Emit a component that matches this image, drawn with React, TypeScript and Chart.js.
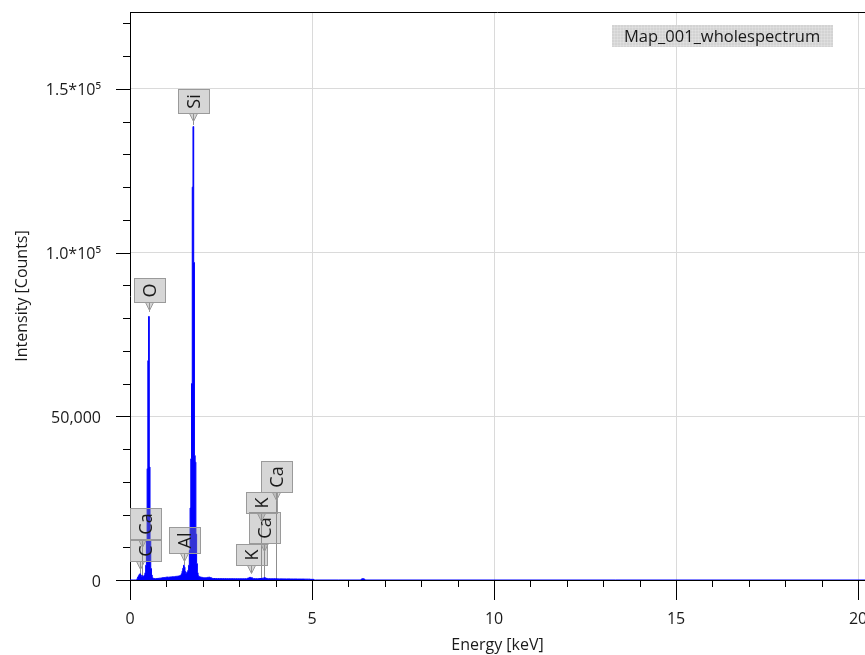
import React, { useEffect, useRef } from 'react';
import { Chart, registerables } from 'chart.js';

Chart.register(...registerables);

// ---------- data ----------
const seriesName = 'Map_001_wholespectrum';

const energyKeV = [
  0.0, 0.18, 0.2, 0.22, 0.24, 0.26, 0.28, 0.3, 0.32, 0.34, 0.36, 0.38, 0.4, 0.42, 0.44, 0.46, 0.48, 0.5,
  0.52, 0.54, 0.56, 0.58, 0.6, 0.62, 0.64, 0.66, 0.7, 0.74, 0.78, 0.82, 0.86, 0.9, 0.94, 0.98, 1.02, 1.06,
  1.1, 1.14, 1.18, 1.22, 1.26, 1.3, 1.34, 1.38, 1.4, 1.42, 1.44, 1.46, 1.48, 1.5, 1.52, 1.54, 1.56, 1.58,
  1.6, 1.62, 1.64, 1.66, 1.68, 1.7, 1.72, 1.74, 1.76, 1.78, 1.8, 1.82, 1.84, 1.86, 1.88, 1.9, 1.94, 1.98,
  2.02, 2.06, 2.1, 2.14, 2.18, 2.22, 2.26, 2.3, 2.4, 2.5, 2.6, 2.7, 2.8, 2.9, 3.0, 3.1, 3.2, 3.26, 3.3,
  3.34, 3.4, 3.5, 3.6, 3.66, 3.7, 3.74, 3.8, 3.9, 4.0, 4.1, 4.3, 4.5, 4.7, 4.9, 5.0, 5.1, 6.34, 6.36,
  6.4, 6.44, 6.46, 20.2,
];

const counts = [
  0, 0, 400, 900, 1300, 1700, 1900, 1500, 1100, 1300, 1000, 1200, 1500, 2200, 4500, 12000, 34000, 67000,
  80500, 34500, 12000, 3500, 1500, 700, 500, 450, 400, 450, 500, 550, 600, 700, 750, 800, 900, 850,
  900, 950, 1000, 1000, 1100, 1150, 1200, 1300, 1500, 1900, 2700, 3600, 4500, 3900, 2600, 2100, 2200, 2500,
  3000, 4500, 9000, 22000, 37000, 60000, 120000, 138500, 97000, 38000, 36000, 14000, 5000, 2200, 1300, 1000, 900, 800,
  700, 650, 700, 800, 850, 700, 500, 450, 420, 400, 400, 380, 380, 370, 360, 360, 380, 600, 800,
  650, 400, 380, 450, 550, 700, 500, 380, 360, 380, 340, 320, 300, 280, 260, 200, 0, 0, 300,
  400, 300, 0, 0,
];

const xTickValues = [0, 5, 10, 15, 20];
const yTickValues = [0, 50000, 100000, 150000];
const yTickLabels = ['0', '50,000', '1.0*10\u2075', '1.5*10\u2075'];
const xMinorStep = 1;
const yMinorStep = 10000;

// peak annotations
const peakElements = ['C', 'Ca', 'Al', 'O', 'Si', 'K', 'Ca', 'K', 'Ca'];
const peakEnergies = [0.277, 0.341, 1.486, 0.525, 1.74, 3.313, 3.69, 3.589, 4.012];
const peakTipCounts = [1900, 1200, 4600, 81900, 139000, 2100, 300, 300, 300];
const labelBaseCounts = [5800, 12500, 8250, 84900, 142600, 4580, 11300, 20550, 27000];

const FONT = '"Open Sans", "Noto Sans", sans-serif';
const TEXT = '#1a1a1a';

const labelGeom = (chart: any, i: number) => {
  const { chartArea, scales, ctx } = chart;
  const px = Math.round(scales.x.getPixelForValue(peakEnergies[i])) + 0.5;
  const tipY = scales.y.getPixelForValue(peakTipCounts[i]);
  const baseY = Math.round(scales.y.getPixelForValue(labelBaseCounts[i])) + 0.5;
  const tw = ctx.measureText(peakElements[i]).width;
  const h = Math.round(tw + 10);
  const w = 31;
  const bx = Math.round(Math.max(chartArea.left, px - w / 2)) + 0.5;
  return { px, tipY, baseY, h, w, bx };
};

const peakLabelPlugin = {
  id: 'peakLabels',
  beforeDatasetsDraw(chart: any) {
    const { ctx } = chart;
    ctx.save();
    ctx.font = `18px ${FONT}`;
    ctx.lineWidth = 1;
    ctx.strokeStyle = '#8f8f8f';
    peakElements.forEach((el, i) => {
      const g = labelGeom(chart, i);
      ctx.beginPath();
      ctx.moveTo(g.px, g.baseY);
      ctx.lineTo(g.px, g.tipY);
      ctx.stroke();
    });
    ctx.restore();
  },
  afterDatasetsDraw(chart: any) {
    const { ctx } = chart;
    ctx.save();
    ctx.font = `18px ${FONT}`;
    ctx.lineWidth = 1;
    peakElements.forEach((el, i) => {
      const g = labelGeom(chart, i);
      // pointer triangle
      ctx.fillStyle = 'rgba(150,150,150,0.4)';
      ctx.strokeStyle = '#9a9a9a';
      ctx.beginPath();
      ctx.moveTo(g.px - 4, g.baseY);
      ctx.lineTo(g.px, g.baseY + 8);
      ctx.lineTo(g.px + 4, g.baseY);
      ctx.closePath();
      ctx.fill();
      ctx.stroke();
      // box
      ctx.fillStyle = 'rgba(140,140,140,0.36)';
      ctx.fillRect(g.bx, g.baseY - g.h, g.w, g.h);
      ctx.strokeStyle = '#9a9a9a';
      ctx.strokeRect(g.bx, g.baseY - g.h, g.w, g.h);
      // text
      ctx.save();
      ctx.translate(g.bx + g.w / 2, g.baseY - g.h / 2);
      ctx.rotate(-Math.PI / 2);
      ctx.fillStyle = TEXT;
      ctx.textAlign = 'center';
      ctx.textBaseline = 'middle';
      ctx.fillText(el, 0, 1);
      ctx.restore();
    });
    ctx.restore();
  },
};

const frameAndTicksPlugin = {
  id: 'frameTicks',
  afterDraw(chart: any) {
    const { ctx, chartArea, scales } = chart;
    const { left, right, top, bottom } = chartArea;
    const x = scales.x;
    const y = scales.y;
    ctx.save();
    ctx.strokeStyle = '#000';
    ctx.lineWidth = 1;
    ctx.beginPath();
    ctx.moveTo(left, Math.round(top) + 0.5);
    ctx.lineTo(right, Math.round(top) + 0.5);
    for (let v = 0; v <= x.max + 1e-9; v += xMinorStep) {
      const p = Math.round(x.getPixelForValue(v)) + 0.5;
      const len = v % 5 === 0 ? 20 : 7;
      ctx.moveTo(p, bottom);
      ctx.lineTo(p, bottom + len);
    }
    for (let v = 0; v <= y.max + 1e-9; v += yMinorStep) {
      const p = Math.round(y.getPixelForValue(v)) + 0.5;
      const len = v % 50000 === 0 ? 14 : 7;
      ctx.moveTo(left, p);
      ctx.lineTo(left - len, p);
    }
    ctx.stroke();

    // legend box
    const label = chart.data.datasets[0].label;
    const lx = right - 253;
    const ly = top + 13;
    const lw = 221;
    const lh = 22;
    ctx.fillStyle = '#d3d3d3';
    ctx.fillRect(lx, ly, lw, lh);
    ctx.strokeStyle = 'rgba(255,255,255,0.18)';
    ctx.beginPath();
    for (let gx = lx + 2; gx < lx + lw; gx += 3) {
      ctx.moveTo(Math.round(gx) + 0.5, ly);
      ctx.lineTo(Math.round(gx) + 0.5, ly + lh);
    }
    for (let gy = ly + 2; gy < ly + lh; gy += 3) {
      ctx.moveTo(lx, Math.round(gy) + 0.5);
      ctx.lineTo(lx + lw, Math.round(gy) + 0.5);
    }
    ctx.stroke();
    ctx.fillStyle = TEXT;
    ctx.font = `16.5px ${FONT}`;
    ctx.textAlign = 'left';
    ctx.textBaseline = 'middle';
    ctx.fillText(label, lx + 12, ly + lh / 2 + 1);
    ctx.restore();
  },
};

export default function App() {
  const ref = useRef<HTMLCanvasElement | null>(null);

  useEffect(() => {
    if (!ref.current) return;
    const data = energyKeV.map((e, i) => ({ x: e, y: counts[i] }));
    const gridColor = (ctx: any) =>
      ctx.tick && ctx.tick.value === 0 ? 'rgba(0,0,0,0)' : '#dadada';

    const chart = new Chart(ref.current, {
      type: 'line',
      data: {
        datasets: [
          {
            label: seriesName,
            data,
            stepped: 'middle',
            fill: 'origin',
            backgroundColor: '#0000ff',
            borderColor: '#0000ff',
            borderWidth: 1,
            pointRadius: 0,
          } as any,
        ],
      },
      options: {
        animation: false,
        responsive: false,
        maintainAspectRatio: false,
        layout: { padding: { top: 12, right: 0, left: 0, bottom: 0 } },
        plugins: {
          legend: { display: false },
          tooltip: { enabled: false },
        },
        scales: {
          x: {
            type: 'linear',
            min: 0,
            max: 20.19,
            afterBuildTicks: (s: any) => {
              s.ticks = xTickValues.map((v) => ({ value: v }));
            },
            afterFit: (s: any) => {
              s.height = 75;
              s.paddingLeft = 0;
              s.paddingRight = 0;
            },
            ticks: {
              padding: 30,
              maxRotation: 0,
              autoSkip: false,
              color: TEXT,
              font: { family: FONT, size: 16 },
              callback: (v: any) => String(v),
            },
            grid: { drawTicks: false, color: gridColor, lineWidth: 1 },
            border: { display: true, color: '#000', width: 1 },
            title: {
              display: true,
              text: 'Energy [keV]',
              color: TEXT,
              font: { family: FONT, size: 16 },
              padding: { top: 0, bottom: 0 },
            },
          },
          y: {
            type: 'linear',
            min: 0,
            max: 173500,
            afterBuildTicks: (s: any) => {
              s.ticks = yTickValues.map((v) => ({ value: v }));
            },
            afterFit: (s: any) => {
              s.width = 130;
              s.paddingTop = 0;
              s.paddingBottom = 0;
            },
            ticks: {
              padding: 29,
              labelOffset: 2,
              color: TEXT,
              font: { family: FONT, size: 16 },
              callback: (v: any) => {
                const idx = yTickValues.indexOf(Number(v));
                return idx >= 0 ? yTickLabels[idx] : '';
              },
            },
            grid: { drawTicks: false, color: gridColor, lineWidth: 1 },
            border: { display: true, color: '#000', width: 1 },
            title: {
              display: true,
              text: 'Intensity [Counts]',
              color: TEXT,
              font: { family: FONT, size: 16 },
              padding: { top: 13, bottom: 0 },
            },
          },
        },
      } as any,
      plugins: [peakLabelPlugin, frameAndTicksPlugin],
    });
    return () => chart.destroy();
  }, []);

  return (
    <div style={{ position: 'absolute', left: 0, top: 0, width: 865, height: 655, background: '#fff' }}>
      <canvas ref={ref} width={865} height={655} style={{ display: 'block' }} />
    </div>
  );
}
